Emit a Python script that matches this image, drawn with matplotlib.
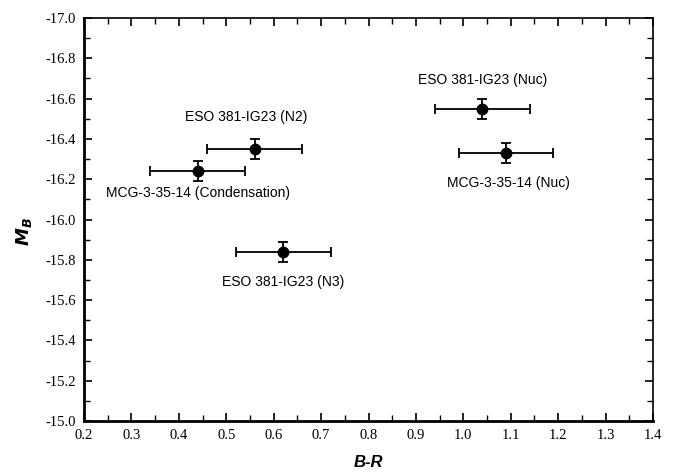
import matplotlib
matplotlib.use("Agg")
import matplotlib.pyplot as plt
from matplotlib.ticker import MultipleLocator

# Colour vs. absolute magnitude for the nuclei and condensations
names = ["ESO 381-IG23 (Nuc)", "MCG-3-35-14 (Nuc)", "ESO 381-IG23 (N2)",
         "MCG-3-35-14 (Condensation)", "ESO 381-IG23 (N3)"]
b_r = [1.04, 1.09, 0.56, 0.44, 0.62]
b_r_err = [0.10, 0.10, 0.10, 0.10, 0.10]
m_b = [-16.55, -16.33, -16.35, -16.24, -15.84]
m_b_err = [0.05, 0.05, 0.05, 0.05, 0.05]

# label placement (data coordinates)
label_x = [1.04, 1.095, 0.543, 0.44, 0.62]
label_y = [-16.69, -16.18, -16.51, -16.13, -15.69]

fig = plt.figure(figsize=(6.73, 4.73), dpi=100)
ax = fig.add_axes([0.1248, 0.1099, 0.8455, 0.852])

ax.errorbar(b_r, m_b, xerr=b_r_err, yerr=m_b_err, fmt="o", color="black",
            markersize=7.5, elinewidth=1.3, capsize=3.5, capthick=1.3)

for name, lx, ly in zip(names, label_x, label_y):
    ax.text(lx, ly, name, ha="center", va="center", fontsize=10,
            family="Liberation Sans")

ax.set_xlim(0.2, 1.4)
ax.set_ylim(-15.0, -17.0)
ax.xaxis.set_major_locator(MultipleLocator(0.1))
ax.xaxis.set_minor_locator(MultipleLocator(0.05))
ax.yaxis.set_major_locator(MultipleLocator(0.2))
ax.yaxis.set_minor_locator(MultipleLocator(0.1))
ax.xaxis.set_major_formatter(plt.FuncFormatter(lambda v, p: f"{v:.1f}"))
ax.yaxis.set_major_formatter(plt.FuncFormatter(lambda v, p: f"{v:.1f}"))

ax.tick_params(which="both", direction="in", top=True, right=True,
               labelsize=10.5, pad=6)
ax.tick_params(which="major", length=6, width=1.2)
ax.tick_params(which="minor", length=4, width=1.0)
for lab in ax.get_xticklabels() + ax.get_yticklabels():
    lab.set_family("Liberation Serif")

ax.spines["left"].set_linewidth(2.0)
ax.spines["bottom"].set_linewidth(2.0)
ax.spines["top"].set_linewidth(1.2)
ax.spines["right"].set_linewidth(1.2)

# axis titles
fig.text(0.547, 0.022, "B-R", ha="center", va="center", fontsize=12,
         fontweight="bold", style="italic", family="Liberation Sans")
fig.text(0.035, 0.51, r"$\mathbfit{M}_{\mathbfit{B}}$", rotation=90,
         ha="center", va="center", fontsize=13)

fig.savefig("out.png", dpi=100)
